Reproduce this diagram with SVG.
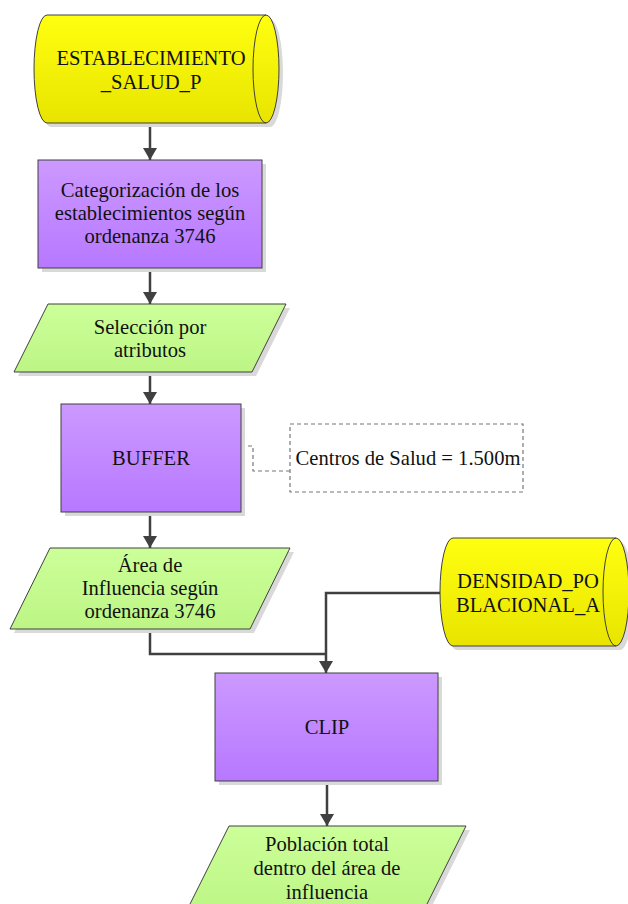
<svg xmlns="http://www.w3.org/2000/svg" width="628" height="904" viewBox="0 0 628 904">
<defs>
<linearGradient id="gY" x1="0" y1="0" x2="0" y2="1"><stop offset="0" stop-color="#FFFF10"/><stop offset="1" stop-color="#E8E400"/></linearGradient>
<linearGradient id="gP" x1="0" y1="0" x2="0" y2="1"><stop offset="0" stop-color="#CC99FF"/><stop offset="1" stop-color="#B778FF"/></linearGradient>
<linearGradient id="gG" x1="0" y1="0" x2="0" y2="1"><stop offset="0" stop-color="#CCFF99"/><stop offset="1" stop-color="#BDF585"/></linearGradient>
<marker id="arr" viewBox="0 0 12 14" refX="12" refY="7" markerWidth="12" markerHeight="14" markerUnits="userSpaceOnUse" orient="auto">
<path d="M0,0 L12,7 L0,14 Z" fill="#404040"/>
</marker>
</defs>
<style>
.sh{fill:#d9d9d9;stroke:none}
.y{fill:url(#gY);stroke:#404040;stroke-width:1}
.p{fill:url(#gP);stroke:#404040;stroke-width:1}
.g{fill:url(#gG);stroke:#404040;stroke-width:1}
.t{font-family:'Liberation Serif','DejaVu Serif',serif;font-size:20.6px;fill:#111;text-anchor:middle}
.c{fill:none;stroke:#404040;stroke-width:2.5}
.d{fill:none;stroke:#777;stroke-width:1.2;stroke-dasharray:4,3}
</style>
<g id="connectors">
<line class="c" x1="150" y1="124" x2="150" y2="160" marker-end="url(#arr)"/>
<line class="c" x1="150" y1="268" x2="150" y2="304" marker-end="url(#arr)"/>
<line class="c" x1="150" y1="372" x2="150" y2="404" marker-end="url(#arr)"/>
<line class="c" x1="150" y1="512" x2="150" y2="548" marker-end="url(#arr)"/>
<polyline class="c" points="150,629 150,654 326,654"/>
<polyline class="c" points="441,593 326,593 326,673" marker-end="url(#arr)"/>
<line class="c" x1="327" y1="781" x2="327" y2="826" marker-end="url(#arr)"/>
<polyline class="d" points="241,446 253,446 253,471 290,471"/>
</g>
<g id="n1">
<path class="sh" d="M51,19 L270,19 A13,54 0 0 1 270,127 L51,127 A13,54 0 0 1 51,19 Z"/>
<path class="y" d="M47,15 L266,15 A13,54 0 0 1 266,123 L47,123 A13,54 0 0 1 47,15 Z"/>
<path d="M266,15 A13,54 0 0 0 266,123" fill="none" stroke="#404040" stroke-width="1"/>
<text class="t" x="151" y="65">ESTABLECIMIENTO</text>
<text class="t" x="151" y="89">_SALUD_P</text>
</g>
<g id="n2">
<rect class="sh" x="42" y="164" width="224" height="108"/>
<rect class="p" x="38" y="160" width="224" height="108"/>
<text class="t" x="150" y="197">Categorización de los</text>
<text class="t" x="150" y="220">establecimientos según</text>
<text class="t" x="150" y="243">ordenanza 3746</text>
</g>
<g id="n3">
<polygon class="sh" points="52,308 290,308 256,376 18,376"/>
<polygon class="g" points="48,304 286,304 252,372 14,372"/>
<text class="t" x="150" y="334">Selección por</text>
<text class="t" x="150" y="357">atributos</text>
</g>
<g id="n4">
<rect class="sh" x="65" y="408" width="180" height="108"/>
<rect class="p" x="61" y="404" width="180" height="108"/>
<text class="t" x="151" y="465">BUFFER</text>
</g>
<g id="note">
<rect class="d" x="290" y="424" width="233" height="68" fill="#fff"/>
<text class="t" x="408" y="465">Centros de Salud = 1.500m</text>
</g>
<g id="n5">
<polygon class="sh" points="54,552 294,552 254,633 14,633"/>
<polygon class="g" points="50,548 290,548 250,629 10,629"/>
<text class="t" x="150" y="572">Área de</text>
<text class="t" x="150" y="595">Influencia según</text>
<text class="t" x="150" y="618">ordenanza 3746</text>
</g>
<g id="n6">
<path class="sh" d="M457,542 L620,542 A13,54 0 0 1 620,650 L457,650 A13,54 0 0 1 457,542 Z"/>
<path class="y" d="M453,538 L616,538 A13,54 0 0 1 616,646 L453,646 A13,54 0 0 1 453,538 Z"/>
<path d="M616,538 A13,54 0 0 0 616,646" fill="none" stroke="#404040" stroke-width="1"/>
<text class="t" x="528" y="588">DENSIDAD_PO</text>
<text class="t" x="528" y="612">BLACIONAL_A</text>
</g>
<g id="n7">
<rect class="sh" x="219" y="677" width="223" height="108"/>
<rect class="p" x="215" y="673" width="223" height="108"/>
<text class="t" x="327" y="734">CLIP</text>
</g>
<g id="n8">
<polygon class="sh" points="233,830 470,830 426,918 189,918"/>
<polygon class="g" points="229,826 466,826 422,914 185,914"/>
<text class="t" x="327" y="851">Población total</text>
<text class="t" x="327" y="875">dentro del área de</text>
<text class="t" x="327" y="899">influencia</text>
</g>
</svg>
